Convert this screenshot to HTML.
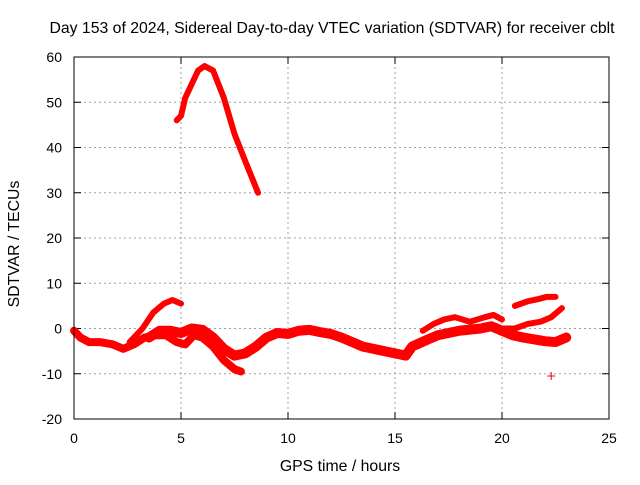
<!DOCTYPE html>
<html><head><meta charset="utf-8"><style>
body{margin:0;background:#fff;}
svg text{font-family:"Liberation Sans",sans-serif;font-size:14px;fill:#000;}
svg text.big{font-size:15.8px;}
</style></head><body>
<svg id="c" width="640" height="480" xmlns="http://www.w3.org/2000/svg">
<text class="big" x="332" y="33" text-anchor="middle">Day 153 of 2024, Sidereal Day-to-day VTEC variation (SDTVAR) for receiver cblt</text>
<text class="big" x="340" y="471" text-anchor="middle">GPS time / hours</text>
<text class="big" transform="translate(19,244) rotate(-90)" text-anchor="middle">SDTVAR / TECUs</text>
<g id="grid"></g>
<g id="ticks"></g>
<g id="marks"></g>
<rect x="74" y="57" width="535" height="362" fill="none" stroke="#000" stroke-width="1"/>
</svg>
<script>
const xTicks=[0,5,10,15,20,25];
const yTicks=[-20,-10,0,10,20,30,40,50,60];
const peakT=[4.8,5.0,5.2,5.5,5.8,6.1,6.5,7.0,7.5,8.0,8.6];
const peakV=[46,47,51,54,57,58,57,51,43,37,30];
const bT=[0,0.3,0.7,1.2,1.8,2.3,2.8,3.3,3.8,4.3,4.8,5.2,5.6,6,6.5,7,7.5,7.8];
const bV=[-0.5,-2,-3,-3,-3.5,-4.5,-3.5,-2,-1.5,-1.5,-3,-3.5,-1.5,-2,-4,-7,-9,-9.5];
const cT=[2.6,3.2,3.7,4.2,4.6,5.0];
const cV=[-3,0,3.5,5.5,6.3,5.5];
const dT=[3.5,4,4.5,5,5.5,6,6.5,7,7.5,8,8.5,9,9.5,10,10.5,11,11.5,12,12.5,13,13.5,14,14.5,15,15.5,15.8,16.5,17,18,19,19.5,20,20.5,21,22,22.5,23];
const dV=[-2,-0.5,-0.5,-1,0,-0.3,-2,-4.5,-6,-5.5,-4,-2,-1,-1.2,-0.5,-0.3,-0.8,-1.2,-2,-3,-4,-4.5,-5,-5.5,-6,-4,-2.5,-1.5,-0.5,0,0.5,-0.5,-1.5,-2,-2.8,-3,-2];
const eT=[16.3,16.8,17.3,17.8,18.5,19.2,19.6,20.0];
const eV=[-0.5,1,2,2.5,1.5,2.5,3,2];
const fT=[20.0,20.6,21.2,21.8,22.3,22.8];
const fV=[0,0,1,1.5,2.5,4.5];
const gT=[20.6,21.2,21.7,22.1,22.5];
const gV=[5,6,6.5,7,7];
const outT=[22.3];
const outV=[-10.5];
const X=t=>74+t*21.4, Y=v=>57+(60-v)*4.525;
const NS="http://www.w3.org/2000/svg";
function mk(tag,parent,attrs){const e=document.createElementNS(NS,tag);for(const k in attrs)e.setAttribute(k,attrs[k]);parent.appendChild(e);return e;}
const grid=document.getElementById('grid'),ticks=document.getElementById('ticks'),marks=document.getElementById('marks');
xTicks.forEach(t=>{
 if(t>0&&t<25){const l=mk('line',grid,{x1:X(t),x2:X(t),y1:57,y2:419,stroke:'#a0a0a0','stroke-dasharray':'2,3'});
 
 }
 mk('line',ticks,{x1:X(t),x2:X(t),y1:419,y2:412,stroke:'#000'});
 mk('line',ticks,{x1:X(t),x2:X(t),y1:57,y2:64,stroke:'#000'});
 const tx=mk('text',ticks,{x:X(t),y:443,'text-anchor':'middle'});tx.textContent=t;
 
 
});
yTicks.forEach(v=>{
 if(v>-20&&v<60){const l=mk('line',grid,{x1:74,x2:609,y1:Y(v),y2:Y(v),stroke:'#a0a0a0','stroke-dasharray':'2,3'});
 
 }
 mk('line',ticks,{x1:74,x2:81,y1:Y(v),y2:Y(v),stroke:'#000'});
 mk('line',ticks,{x1:609,x2:602,y1:Y(v),y2:Y(v),stroke:'#000'});
 const tx=mk('text',ticks,{x:62,y:Y(v)+5,'text-anchor':'end'});tx.textContent=v;
 
 
});
function line(ts,vs,w,name){
 const p=mk('polyline',marks,{points:ts.map((t,i)=>X(t)+','+Y(vs[i])).join(' '),fill:'none',stroke:'#ff0000','stroke-width':w,'stroke-linejoin':'round','stroke-linecap':'round'});
 
 
}
line(peakT,peakV,6,'trace-peak');
line(bT,bV,8,'trace-b');
line(cT,cV,6,'trace-c');
line(dT,dV,10,'trace-d');
line(eT,eV,6,'trace-e');
line(fT,fV,6,'trace-f');
line(gT,gV,6,'trace-g');
outT.forEach((t,i)=>{
 const g=mk('path',marks,{d:`M${X(t)-4},${Y(outV[i])}h8M${X(t)},${Y(outV[i])-4}v8`,stroke:'#ff0000','stroke-width':1});
 
 
});
</script>
</body></html>
